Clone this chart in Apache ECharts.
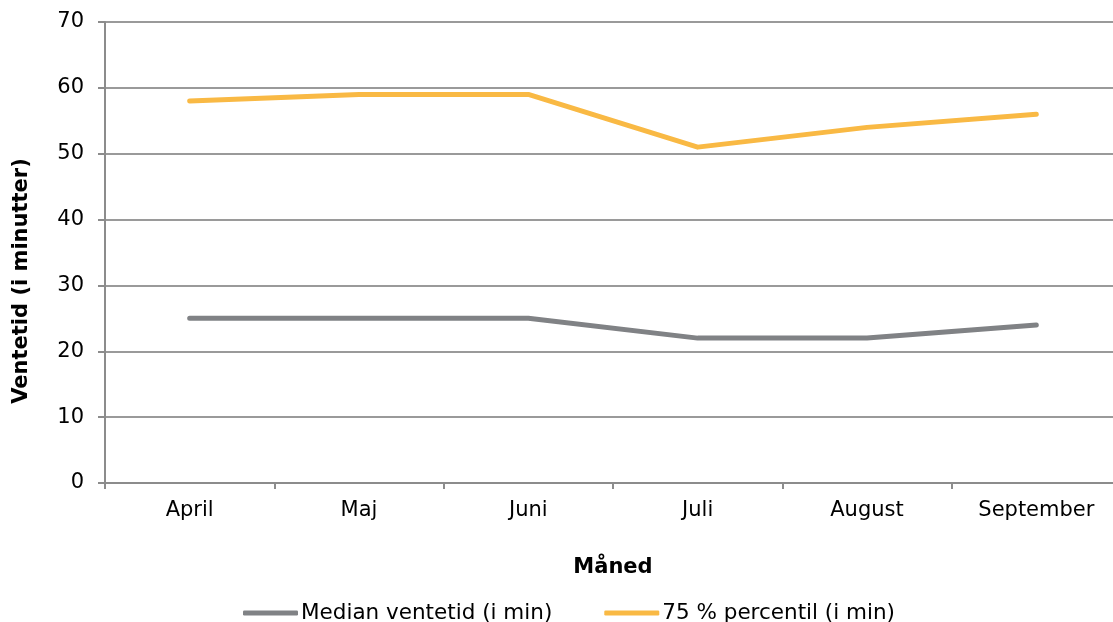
<!DOCTYPE html>
<html>
<head>
<meta charset="utf-8">
<script src="https://cdn.jsdelivr.net/npm/echarts@6/dist/echarts.min.js"></script>
<style>
  html, body { margin: 0; padding: 0; background: #fff; }
  #chart { width: 1113px; height: 622px; }
</style>
</head>
<body>
<div id="chart"></div>
<script>
// Ventetid per måned
const months = ['April', 'Maj', 'Juni', 'Juli', 'August', 'September'];
const median = [25, 25, 25, 22, 22, 24];
const percentile75 = [58, 59, 59, 51, 54, 56];
const seriesNames = ['Median ventetid (i min)', '75 % percentil (i min)'];
const yTitle = 'Ventetid (i minutter)';

const font = 'DejaVu Sans, Verdana, sans-serif';
const axisGray = '#8c8c8c';
const fs = 21;

const chart = echarts.init(document.getElementById('chart'), null, { renderer: 'canvas' });
chart.setOption({
  animation: false,
  backgroundColor: '#ffffff',
  textStyle: { fontFamily: font, color: '#000' },
  grid: { left: 105, top: 22, width: 1016, height: 461, containLabel: false, outerBoundsMode: 'none' },
  // vertical axis title, centred on the chart area rather than the plot
  graphic: [{
    type: 'text',
    x: 22,
    y: 281,
    rotation: Math.PI / 2,
    style: {
      text: yTitle,
      fontFamily: font,
      fontSize: fs,
      fontWeight: 'bold',
      fill: '#000',
      align: 'center',
      verticalAlign: 'middle'
    }
  }],
  legend: {
    top: 597,
    left: 238,
    icon: 'roundRect',
    itemWidth: 55,
    itemHeight: 5,
    itemGap: 52,
    textStyle: { fontFamily: font, fontSize: 21.5, color: '#000', padding: [0, 0, 0, -2] },
    data: seriesNames
  },
  xAxis: {
    type: 'category',
    data: months,
    boundaryGap: true,
    name: 'Måned',
    nameLocation: 'middle',
    nameGap: 74,
    nameTextStyle: { fontFamily: font, fontSize: fs, fontWeight: 'bold', color: '#000' },
    axisLine: { show: true, lineStyle: { color: axisGray, width: 2 } },
    axisTick: { show: true, length: 6, interval: 0, lineStyle: { color: axisGray, width: 2 } },
    axisLabel: { fontFamily: font, fontSize: fs, color: '#000', margin: 17, interval: 0 },
    splitLine: { show: false }
  },
  yAxis: {
    type: 'value',
    min: 0,
    max: 70,
    interval: 10,
    axisLine: { show: true, lineStyle: { color: axisGray, width: 2 } },
    axisTick: { show: true, length: 7, lineStyle: { color: axisGray, width: 2 } },
    axisLabel: { fontFamily: font, fontSize: fs, color: '#000', margin: 21 },
    splitLine: { show: true, lineStyle: { color: '#9a9a9a', width: 2 } }
  },
  series: [
    {
      name: seriesNames[0],
      type: 'line',
      data: median,
      symbol: 'none',
      color: '#808285',
      lineStyle: { width: 5, color: '#808285', cap: 'round', join: 'round' }
    },
    {
      name: seriesNames[1],
      type: 'line',
      data: percentile75,
      symbol: 'none',
      color: '#f9b944',
      lineStyle: { width: 5, color: '#f9b944', cap: 'round', join: 'round' }
    }
  ]
});
</script>
</body>
</html>
